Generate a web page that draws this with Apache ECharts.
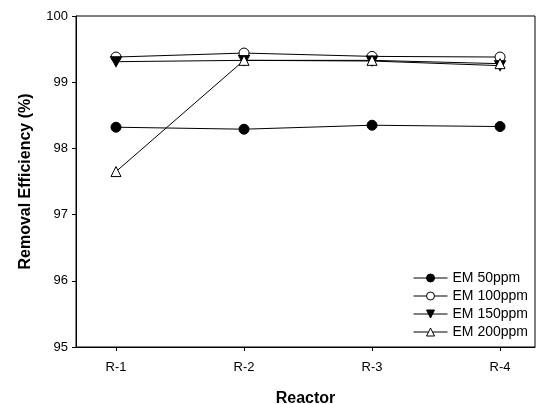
<!DOCTYPE html>
<html><head><meta charset="utf-8">
<script src="https://cdn.jsdelivr.net/npm/echarts@6/dist/echarts.min.js"></script>
<style>html,body{margin:0;padding:0;background:#fff}#c{width:541px;height:404px}</style>
</head><body><div id="c"></div>
<script>
const categories = ['R-1', 'R-2', 'R-3', 'R-4'];
const em50 = [98.32, 98.29, 98.35, 98.33];
const em100 = [99.38, 99.44, 99.39, 99.38];
const em150 = [99.31, 99.33, 99.32, 99.25];
const em200 = [97.65, 99.33, 99.33, 99.28];
const yTicks = [95, 96, 97, 98, 99, 100];

const FONT = 'Liberation Sans, Arial, sans-serif';
const pos = categories.map((c, i) => i + 1);
const mk = arr => arr.map((v, i) => [pos[i], v]);
const downTri = 'path://M0,0 L10,0 L5,8.66 Z';

function s(name, data, symbol, fill) {
  return {
    name, type: 'line', data: mk(data), symbol, symbolSize: symbol === downTri ? [11, 10] : 10,
    lineStyle: { color: '#000', width: 1 },
    itemStyle: { color: fill, borderColor: '#000', borderWidth: 1 },
    emphasis: { disabled: true }, animation: false
  };
}

const chart = echarts.init(document.getElementById('c'));
chart.setOption({
  animation: false,
  backgroundColor: '#fff',
  grid: { left: 76, right: 6, top: 16, bottom: 57, show: true, borderColor: '#000', borderWidth: 1,
    containLabel: false, outerBoundsMode: 'none' },
  xAxis: {
    type: 'value', min: 0.6875, max: 4.273,
    name: 'Reactor', nameLocation: 'middle', nameGap: 44,
    nameTextStyle: { fontFamily: FONT, fontWeight: 'bold', fontSize: 16, color: '#000' },
    axisLine: { lineStyle: { color: '#000', width: 1 } },
    axisTick: { show: true, length: 4, lineStyle: { color: '#000' }, customValues: pos },
    axisLabel: { fontFamily: FONT, fontSize: 13, color: '#000', margin: 14, customValues: pos,
      formatter: v => categories[Math.round(v) - 1] || '' },
    splitLine: { show: false }
  },
  yAxis: {
    type: 'value', min: 95, max: 100, interval: 1,
    name: 'Removal Efficiency (%)', nameLocation: 'middle', nameGap: 42,
    nameTextStyle: { fontFamily: FONT, fontWeight: 'bold', fontSize: 16, color: '#000' },
    axisLine: { show: true, lineStyle: { color: '#000', width: 1 } },
    axisTick: { show: true, length: 4, lineStyle: { color: '#000' } },
    axisLabel: { fontFamily: FONT, fontSize: 13, color: '#000', margin: 8,
      formatter: v => yTicks.includes(v) ? String(v) : '' },
    splitLine: { show: false }
  },
  legend: {
    orient: 'vertical', right: 8, top: 266, itemWidth: 34, itemHeight: 10, itemGap: 4,
    textStyle: { fontFamily: FONT, fontSize: 14, color: '#000' },
    lineStyle: { width: 1 },
    itemStyle: { borderWidth: 1 },
    data: ['EM 50ppm', 'EM 100ppm', 'EM 150ppm', 'EM 200ppm'],
    selectedMode: false
  },
  series: [
    s('EM 50ppm', em50, 'circle', '#000'),
    s('EM 100ppm', em100, 'circle', '#fff'),
    s('EM 150ppm', em150, downTri, '#000'),
    s('EM 200ppm', em200, 'triangle', '#fff')
  ]
});
</script></body></html>
